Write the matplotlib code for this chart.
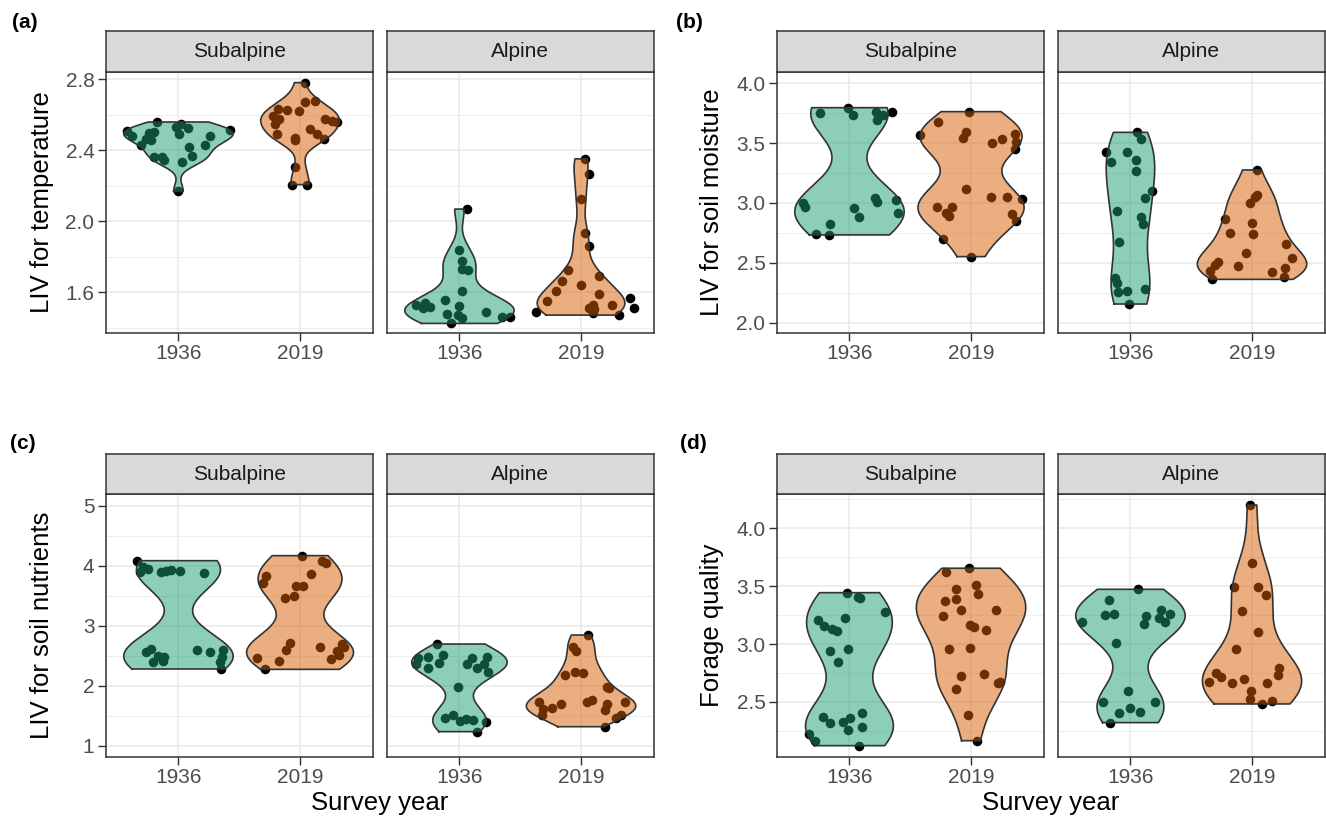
import numpy as np
import matplotlib
matplotlib.use("Agg")
import matplotlib.pyplot as plt

plt.rcParams['font.family'] = ['Liberation Sans', 'DejaVu Sans']

# ---------------- data ----------------
years = ["1936", "2019"]
zones = ["Subalpine", "Alpine"]
panel_tags = ["(a)", "(b)", "(c)", "(d)"]
ylabels = ["LIV for temperature", "LIV for soil moisture",
           "LIV for soil nutrients", "Forage quality"]
xlabel = "Survey year"

# (a) temperature
temp_sub_1936 = [2.508, 2.479, 2.427, 2.461, 2.498, 2.502, 2.455, 2.559, 2.362, 2.361, 2.344,
                 2.532, 2.545, 2.525, 2.489, 2.417, 2.370, 2.332, 2.427, 2.479, 2.513, 2.168]
temp_sub_1936_jit = [-0.427, -0.380, -0.312, -0.271, -0.243, -0.202, -0.229, -0.180, -0.202, -0.134, -0.120,
                     -0.024, 0.022, 0.077, 0.003, 0.085, 0.113, 0.031, 0.222, 0.258, 0.422, -0.005]
temp_sub_2019 = [2.781, 2.677, 2.674, 2.630, 2.627, 2.621, 2.593, 2.577, 2.545, 2.489, 2.470,
                 2.455, 2.521, 2.489, 2.464, 2.574, 2.564, 2.560, 2.306, 2.206, 2.206]
temp_sub_2019_jit = [0.041, 0.123, 0.041, -0.178, -0.109, -0.005, -0.219, -0.172, -0.205, -0.191, -0.041,
                     -0.041, 0.082, 0.142, 0.197, 0.205, 0.260, 0.307, -0.041, -0.068, 0.055]
temp_alp_1936 = [2.068, 1.838, 1.776, 1.728, 1.725, 1.608, 1.555, 1.527, 1.540, 1.508, 1.517,
                 1.474, 1.521, 1.470, 1.451, 1.423, 1.489, 1.457, 1.461]
temp_alp_1936_jit = [0.064, -0.004, 0.018, 0.018, 0.073, 0.018, -0.120, -0.358, -0.284, -0.298, -0.243,
                     -0.106, -0.004, -0.010, 0.018, -0.073, 0.215, 0.347, 0.416]
temp_alp_2019 = [2.351, 2.266, 2.125, 1.932, 1.862, 1.725, 1.662, 1.608, 1.551, 1.485, 1.640,
                 1.693, 1.589, 1.527, 1.508, 1.502, 1.480, 1.527, 1.470, 1.564, 1.508]
temp_alp_2019_jit = [0.035, 0.062, 0.002, 0.029, 0.062, -0.108, -0.158, -0.204, -0.281, -0.369, 0.002,
                     0.144, 0.144, 0.098, 0.062, 0.103, 0.098, 0.254, 0.309, 0.400, 0.433]

# (b) soil moisture
moist_sub_1936 = [3.796, 3.749, 3.735, 3.763, 3.735, 3.763, 3.693, 2.997, 2.969, 2.955, 2.886,
                  3.039, 3.011, 3.025, 2.914, 2.822, 2.738, 2.733]
moist_sub_1936_jit = [-0.008, -0.246, 0.028, 0.219, 0.279, 0.347, 0.230, -0.382, -0.363, 0.039, 0.080,
                      0.211, 0.224, 0.383, 0.402, -0.158, -0.273, -0.166]
moist_sub_2019 = [3.763, 3.679, 3.590, 3.540, 3.568, 3.504, 3.535, 3.574, 3.512, 3.448, 3.114,
                  3.053, 3.047, 3.031, 2.969, 2.964, 2.914, 2.891, 2.905, 2.852, 2.696, 2.552]
moist_sub_2019_jit = [-0.016, -0.270, -0.038, -0.065, -0.420, 0.175, 0.257, 0.358, 0.372, 0.358, -0.043,
                      0.167, 0.298, 0.421, -0.284, -0.153, -0.202, -0.183, 0.336, 0.372, -0.229, 0.003]
moist_alp_1936 = [3.590, 3.532, 3.429, 3.345, 3.429, 3.359, 3.270, 3.103, 3.039, 2.936, 2.880,
                  2.824, 2.677, 2.371, 2.329, 2.259, 2.265, 2.281, 2.156]
moist_alp_1936_jit = [0.055, 0.090, -0.203, -0.156, -0.028, 0.049, 0.049, 0.181, 0.123, -0.110, 0.090,
                      0.104, -0.093, -0.129, -0.110, -0.102, -0.028, 0.118, -0.014]
moist_alp_2019 = [3.276, 3.067, 3.047, 3.003, 2.863, 2.830, 2.747, 2.738, 2.655, 2.538, 2.585,
                  2.510, 2.482, 2.432, 2.362, 2.476, 2.426, 2.454, 2.384]
moist_alp_2019_jit = [0.042, 0.044, 0.028, -0.013, -0.224, 0.003, -0.183, 0.009, 0.283, 0.332, -0.046,
                      -0.279, -0.307, -0.348, -0.326, -0.115, 0.168, 0.269, 0.261]

# (c) soil nutrients
nutr_sub_1936 = [4.087, 3.904, 3.976, 3.943, 3.892, 3.920, 3.931, 3.920, 3.887, 2.568, 2.613,
                 2.401, 2.496, 2.474, 2.412, 2.596, 2.557, 2.596, 2.401, 2.279, 2.485]
nutr_sub_1936_jit = [-0.337, -0.318, -0.291, -0.250, -0.145, -0.099, -0.058, 0.011, 0.208, -0.271, -0.228,
                     -0.208, -0.167, -0.121, -0.126, 0.153, 0.263, 0.367, 0.345, 0.348, 0.362]
nutr_sub_2019 = [4.171, 4.087, 4.043, 3.859, 3.831, 3.720, 3.664, 3.664, 3.503, 3.470, 2.707,
                 2.596, 2.651, 2.696, 2.651, 2.585, 2.513, 2.440, 2.457, 2.412, 2.273]
nutr_sub_2019_jit = [0.017, 0.184, 0.212, 0.086, -0.282, -0.304, -0.030, 0.025, -0.049, -0.120, -0.085,
                     -0.117, 0.162, 0.349, 0.362, 0.305, 0.321, 0.253, -0.350, -0.172, -0.285]
nutr_alp_1936 = [2.696, 2.457, 2.474, 2.290, 2.513, 2.373, 2.362, 2.457, 2.362, 2.290, 2.362,
                 2.474, 2.234, 1.984, 1.455, 1.511, 1.411, 1.438, 1.427, 1.388, 1.233]
nutr_alp_1936_jit = [-0.188, -0.339, -0.262, -0.257, -0.139, -0.166, -0.358, 0.100, 0.064, 0.141, 0.202,
                     0.229, 0.237, -0.010, -0.120, -0.056, 0.004, 0.053, 0.108, 0.218, 0.141]
nutr_alp_2019 = [2.846, 2.651, 2.579, 2.179, 2.234, 2.217, 1.984, 1.956, 1.733, 1.611, 1.622,
                 1.689, 1.511, 1.722, 1.761, 1.694, 1.594, 1.733, 1.466, 1.511, 1.316]
nutr_alp_2019_jit = [0.061, -0.063, -0.041, -0.131, -0.049, 0.020, 0.212, 0.226, -0.343, -0.315, -0.241,
                     -0.164, -0.323, 0.047, 0.089, 0.212, 0.198, 0.363, 0.289, 0.327, 0.198]

# (d) forage quality
forage_sub_1936 = [3.444, 3.410, 3.395, 3.275, 3.208, 3.159, 3.128, 3.113, 3.229, 2.944, 2.955,
                   2.849, 2.374, 2.316, 2.330, 2.365, 2.258, 2.402, 2.282, 2.221, 2.164, 2.123]
forage_sub_1936_jit = [-0.022, 0.074, 0.088, 0.293, -0.262, -0.213, -0.145, -0.104, -0.035, -0.158, -0.008,
                       -0.098, -0.218, -0.158, -0.054, 0.006, -0.016, 0.107, 0.107, -0.336, -0.287, 0.082]
forage_sub_2019 = [3.655, 3.626, 3.476, 3.511, 3.433, 3.375, 3.387, 3.295, 3.246, 3.295, 3.165,
                   3.151, 3.122, 2.955, 2.969, 2.725, 2.742, 2.613, 2.661, 2.676, 2.388, 2.166]
forage_sub_2019_jit = [-0.016, -0.202, -0.125, 0.044, 0.058, -0.216, -0.120, -0.079, -0.229, 0.208, -0.007,
                       0.022, 0.126, -0.183, -0.011, -0.084, 0.104, -0.125, 0.222, 0.241, -0.024, 0.050]
forage_alp_1936 = [3.473, 3.381, 3.252, 3.260, 3.194, 3.246, 3.174, 3.295, 3.260, 3.223, 3.194,
                   3.007, 2.598, 2.497, 2.497, 2.446, 2.402, 2.417, 2.322]
forage_alp_1936_jit = [0.063, -0.178, -0.206, -0.134, -0.398, 0.131, 0.109, 0.255, 0.323, 0.236, 0.282,
                       -0.121, -0.019, -0.225, 0.200, -0.006, -0.093, 0.077, -0.170]
forage_alp_2019 = [4.201, 3.698, 3.496, 3.496, 3.424, 3.286, 3.102, 2.955, 2.754, 2.713, 2.670,
                   2.667, 2.696, 2.667, 2.791, 2.733, 2.595, 2.526, 2.483, 2.512]
forage_alp_2019_jit = [-0.013, 0.003, -0.150, 0.050, 0.113, -0.079, 0.047, -0.128, -0.293, -0.252, -0.353,
                       -0.164, -0.068, 0.124, 0.222, 0.214, -0.005, -0.019, 0.085, 0.160]

# axis settings per panel
ylims = [(1.369, 2.841), (1.914, 4.094), (0.81, 5.2), (2.025, 4.296)]
major_ticks = [[1.6, 2.0, 2.4, 2.8], [2.0, 2.5, 3.0, 3.5, 4.0], [1, 2, 3, 4, 5], [2.5, 3.0, 3.5, 4.0]]
major_labels = [["1.6", "2.0", "2.4", "2.8"], ["2.0", "2.5", "3.0", "3.5", "4.0"],
                ["1", "2", "3", "4", "5"], ["2.5", "3.0", "3.5", "4.0"]]
minor_ticks = [[1.4, 1.8, 2.2, 2.6], [2.25, 2.75, 3.25, 3.75], [1.5, 2.5, 3.5, 4.5],
               [2.25, 2.75, 3.25, 3.75, 4.25]]

panel_data = [
    {"Subalpine": [(temp_sub_1936, temp_sub_1936_jit), (temp_sub_2019, temp_sub_2019_jit)],
     "Alpine": [(temp_alp_1936, temp_alp_1936_jit), (temp_alp_2019, temp_alp_2019_jit)]},
    {"Subalpine": [(moist_sub_1936, moist_sub_1936_jit), (moist_sub_2019, moist_sub_2019_jit)],
     "Alpine": [(moist_alp_1936, moist_alp_1936_jit), (moist_alp_2019, moist_alp_2019_jit)]},
    {"Subalpine": [(nutr_sub_1936, nutr_sub_1936_jit), (nutr_sub_2019, nutr_sub_2019_jit)],
     "Alpine": [(nutr_alp_1936, nutr_alp_1936_jit), (nutr_alp_2019, nutr_alp_2019_jit)]},
    {"Subalpine": [(forage_sub_1936, forage_sub_1936_jit), (forage_sub_2019, forage_sub_2019_jit)],
     "Alpine": [(forage_alp_1936, forage_alp_1936_jit), (forage_alp_2019, forage_alp_2019_jit)]},
]

fill_colors = ["#1b9e77", "#d95f02"]

# ---------------- helpers ----------------
W, H = 1326, 821
fig = plt.figure(figsize=(W / 100, H / 100), dpi=100)
fig.patch.set_facecolor("white")


def ax_px(x0, x1, y0, y1):
    return fig.add_axes([x0 / W, 1 - y1 / H, (x1 - x0) / W, (y1 - y0) / H])


def kde(vals, grid):
    v = np.asarray(vals, float)
    n = len(v)
    sd = v.std(ddof=1)
    q75, q25 = np.percentile(v, [75, 25])
    lo = min(sd, (q75 - q25) / 1.34)
    if lo <= 0:
        lo = sd
    bw = 0.9 * lo * n ** (-0.2)
    d = np.exp(-0.5 * ((grid[:, None] - v[None, :]) / bw) ** 2).sum(axis=1)
    return d / (n * bw * np.sqrt(2 * np.pi))


# layout in pixels
col_x = [[105.5, 386.5], [776.5, 1057.5]]
facet_w = 267.5
row_plot = [(72, 333), (494, 757)]
row_strip = [(31, 72), (454, 494)]
tag_pos = [(12, 22), (676, 22), (10, 443), (680, 443)]
ylab_x = [42, 712]

for p in range(4):
    r, c = divmod(p, 2)
    py0, py1 = row_plot[r]
    sy0, sy1 = row_strip[r]
    dat = panel_data[p]
    for f, zone in enumerate(zones):
        x0 = col_x[c][f]
        ax = ax_px(x0, x0 + facet_w, py0, py1)
        ax.set_xlim(0.4, 2.6)
        ax.set_ylim(*ylims[p])
        ax.set_facecolor("white")
        # grid
        for yv in minor_ticks[p]:
            ax.axhline(yv, color="#ebebeb", lw=0.6, zorder=0)
        for yv in major_ticks[p]:
            ax.axhline(yv, color="#ebebeb", lw=1.2, zorder=0)
        for xv in (1, 2):
            ax.axvline(xv, color="#ebebeb", lw=1.2, zorder=0)

        # densities for area scaling within the facet
        grids, dens = [], []
        for (vals, jit) in dat[zone]:
            g = np.linspace(min(vals), max(vals), 512)
            grids.append(g)
            dens.append(kde(vals, g))
        dmax = max(d.max() for d in dens)

        for k, (vals, jit) in enumerate(dat[zone]):
            xc = k + 1
            ax.scatter(xc + np.asarray(jit), vals, s=48, color="black", linewidths=0, zorder=2)
            w = 0.45 * dens[k] / dmax
            ax.fill_betweenx(grids[k], xc - w, xc + w, facecolor=fill_colors[k], alpha=0.5,
                             edgecolor="none", zorder=3)
            xs = np.concatenate([xc - w, (xc + w)[::-1], [xc - w[0]]])
            ys = np.concatenate([grids[k], grids[k][::-1], [grids[k][0]]])
            ax.plot(xs, ys, color="#333333", lw=1.2, zorder=4, solid_joinstyle="round")

        ax.set_xticks([1, 2])
        ax.set_xticklabels(years)
        ax.set_yticks(major_ticks[p])
        ax.set_yticklabels(major_labels[p])
        ax.tick_params(axis="both", length=5.5, width=1.0, color="#333333", labelcolor="#4d4d4d",
                       labelsize=15, pad=2.5)
        if f == 1:
            ax.tick_params(axis="y", left=False, labelleft=False)
        for s in ax.spines.values():
            s.set_color("#333333")
            s.set_linewidth(1.1)
            s.set_zorder(5)

        # strip
        sax = ax_px(x0, x0 + facet_w, sy0, sy1)
        sax.set_facecolor("#d9d9d9")
        sax.set_xticks([])
        sax.set_yticks([])
        for s in sax.spines.values():
            s.set_color("#333333")
            s.set_linewidth(1.1)
        sax.text(0.5, 0.5, zone, ha="center", va="center", fontsize=15, color="#1a1a1a",
                 transform=sax.transAxes)

    # y label
    fig.text(ylab_x[c] / W, 1 - ((py0 + py1) / 2) / H, ylabels[p], rotation=90,
             ha="center", va="center", fontsize=18.5, color="black")
    # tag
    tx, ty = tag_pos[p]
    fig.text(tx / W, 1 - ty / H, panel_tags[p], ha="left", va="center", fontsize=15,
             fontweight="bold", color="black")
    # x label (bottom row)
    if r == 1:
        xm = (col_x[c][0] + col_x[c][1] + facet_w) / 2
        fig.text(xm / W, 1 - 803 / H, xlabel, ha="center", va="center", fontsize=18.5,
                 color="black")

fig.savefig("out.png", dpi=100)
